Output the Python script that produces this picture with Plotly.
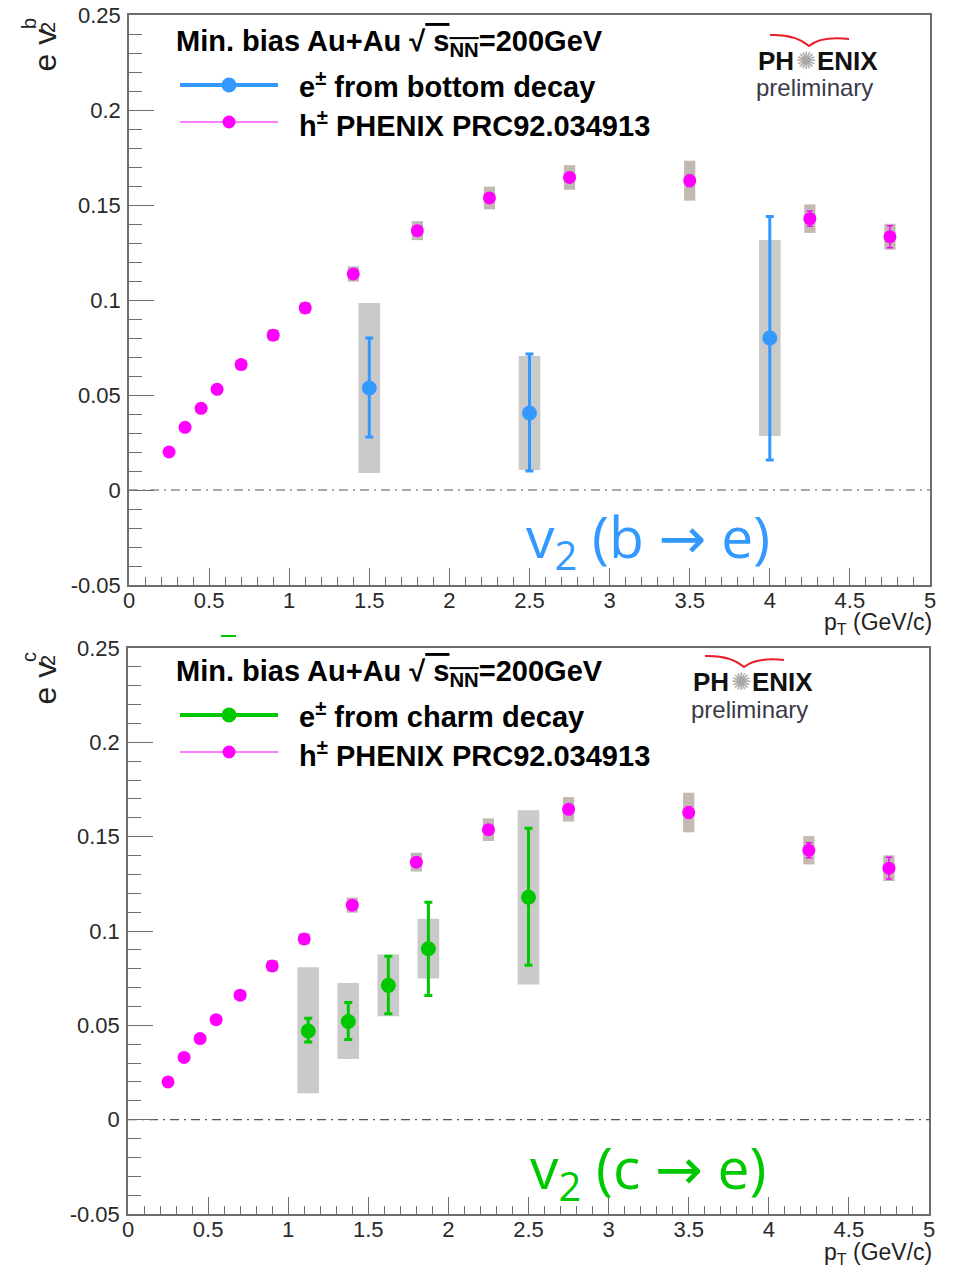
import plotly.graph_objects as go

W, H = 954, 1271

# ---------------- data ----------------
h_pt = [0.25, 0.35, 0.45, 0.55, 0.7, 0.9, 1.1, 1.4, 1.8, 2.25, 2.75, 3.5, 4.25, 4.75]
h_v2 = [0.020, 0.033, 0.043, 0.053, 0.066, 0.0815, 0.0958, 0.1137, 0.1365, 0.1537, 0.1645, 0.1628, 0.1428, 0.1333]
h_stat = [0.0005, 0.0005, 0.0005, 0.0006, 0.0006, 0.0007, 0.0008, 0.001, 0.0012, 0.0015, 0.002, 0.003, 0.004, 0.0058]
h_sys = [0.001, 0.0015, 0.002, 0.002, 0.0025, 0.003, 0.003, 0.004, 0.005, 0.006, 0.0065, 0.0105, 0.0075, 0.0068]

b_pt = [1.5, 2.5, 4.0]
b_v2 = [0.0537, 0.0405, 0.080]
b_stat_hi = [0.0263, 0.0311, 0.064]
b_stat_lo = [0.0258, 0.0305, 0.0642]
b_sys_hi = [0.0447, 0.030, 0.0516]
b_sys_lo = [0.0448, 0.030, 0.0516]

c_pt = [1.125, 1.375, 1.625, 1.875, 2.5]
c_v2 = [0.0470, 0.0520, 0.0712, 0.0906, 0.1179]
c_stat_hi = [0.0067, 0.0101, 0.0154, 0.0247, 0.0366]
c_stat_lo = [0.0059, 0.0095, 0.0150, 0.0248, 0.0361]
c_sys_hi = [0.0338, 0.0205, 0.0164, 0.0159, 0.0461]
c_sys_lo = [0.0330, 0.0199, 0.0164, 0.0158, 0.0462]

x_ticks = [0, 0.5, 1, 1.5, 2, 2.5, 3, 3.5, 4, 4.5, 5]
x_ticktext = ["0", "0.5", "1", "1.5", "2", "2.5", "3", "3.5", "4", "4.5", "5"]
y_ticks = [-0.05, 0, 0.05, 0.1, 0.15, 0.2, 0.25]
y_ticktext = ["-0.05", "0", "0.05", "0.1", "0.15", "0.2", "0.25"]

BLUE = "#3399ff"
GREEN = "#00c800"
MAG = "#ff00ff"
GRAY_BOX = "#cacaca"
H_BOX = "#c2bab2"
AXC = "#6e6e6e"

def px(x):
    return x / W

def py(y):
    return 1 - y / H

fig = go.Figure()

def add_panel(xa, ya, s_pt, s_v2, s_sthi, s_stlo, s_syhi, s_sylo, color):
    # hadron systematic boxes
    fig.add_trace(go.Bar(x=h_pt, y=[2 * s for s in h_sys], base=[v - s for v, s in zip(h_v2, h_sys)],
                         width=0.07, marker=dict(color=H_BOX, line=dict(width=0)),
                         xaxis=xa, yaxis=ya, showlegend=False, hoverinfo="skip"))
    # heavy flavour systematic boxes
    fig.add_trace(go.Bar(x=s_pt, y=[a + b for a, b in zip(s_syhi, s_sylo)],
                         base=[v - b for v, b in zip(s_v2, s_sylo)],
                         width=0.135, marker=dict(color=GRAY_BOX, line=dict(width=0)),
                         xaxis=xa, yaxis=ya, showlegend=False, hoverinfo="skip"))
    # hadrons
    fig.add_trace(go.Scatter(x=h_pt, y=h_v2, mode="markers",
                             marker=dict(color=MAG, size=13),
                             error_y=dict(type="data", array=h_stat, color=MAG, thickness=1.5, width=3),
                             xaxis=xa, yaxis=ya, showlegend=False))
    # heavy flavour electrons
    fig.add_trace(go.Scatter(x=s_pt, y=s_v2, mode="markers",
                             marker=dict(color=color, size=15),
                             error_y=dict(type="data", symmetric=False, array=s_sthi, arrayminus=s_stlo,
                                          color=color, thickness=3, width=4),
                             xaxis=xa, yaxis=ya, showlegend=False))

add_panel("x", "y", b_pt, b_v2, b_stat_hi, b_stat_lo, b_sys_hi, b_sys_lo, BLUE)
add_panel("x2", "y2", c_pt, c_v2, c_stat_hi, c_stat_lo, c_sys_hi, c_sys_lo, GREEN)

xfont = dict(family="Liberation Sans, Arial", size=22, color="#2a2a2a")
yfont = dict(family="Liberation Sans, Arial", size=22, color="#2a2a2a")

def xaxis_cfg(dom, anchor):
    return dict(domain=dom, anchor=anchor, range=[0, 5], tickmode="array", tickvals=x_ticks,
                ticktext=x_ticktext, ticks="inside", ticklen=17, tickwidth=1.2, tickcolor=AXC,
                showline=True, linecolor=AXC, linewidth=1.5, mirror=True, showgrid=False,
                zeroline=False, tickfont=xfont, ticklabelstandoff=-5, automargin=False,
                minor=dict(dtick=0.1, tick0=0, ticks="inside", ticklen=8, tickwidth=1.2, tickcolor=AXC,
                           showgrid=False))

def yaxis_cfg(dom, anchor):
    return dict(domain=dom, anchor=anchor, range=[-0.05, 0.25], tickmode="array", tickvals=y_ticks,
                ticktext=y_ticktext, ticks="inside", ticklen=25, tickwidth=1.2, tickcolor=AXC,
                showline=True, linecolor=AXC, linewidth=1.5, mirror=True, showgrid=False,
                zeroline=False, tickfont=yfont, ticklabelstandoff=2, automargin=False,
                minor=dict(dtick=0.01, tick0=0, ticks="inside", ticklen=13, tickwidth=1.2, tickcolor=AXC,
                           showgrid=False))

fig.update_layout(
    width=W, height=H, autosize=False, margin=dict(l=0, r=0, t=0, b=0, autoexpand=False),
    paper_bgcolor="white", plot_bgcolor="white", barmode="overlay", showlegend=False,
    xaxis=xaxis_cfg([px(129), px(930)], "y"),
    yaxis=yaxis_cfg([py(585), py(15)], "x"),
    xaxis2=xaxis_cfg([px(128), px(929)], "y2"),
    yaxis2=yaxis_cfg([py(1214), py(648)], "x2"),
)

shapes = []
anns = []

# zero lines (dash-dot)
for xr, yr in (("x domain", "y"), ("x2 domain", "y2")):
    shapes.append(dict(type="line", xref=xr, yref=yr, x0=0, x1=1, y0=0, y1=0,
                       line=dict(color="#555555", width=1.2, dash="9px,5px,2px,5px"), layer="below"))

LEG = "Liberation Sans, Arial"

def text(t, x, y, size, color="black", xanchor="left", yanchor="middle", family=LEG, angle=0):
    anns.append(dict(text=t, x=px(x), y=py(y), xref="paper", yref="paper", showarrow=False,
                     xanchor=xanchor, yanchor=yanchor, textangle=angle,
                     font=dict(family=family, size=size, color=color)))

def legend_block(dy, color, label):
    text("<b>Min. bias Au+Au √<span style='text-decoration:overline'> s<sub>NN</sub></span>=200GeV</b>",
         174, 43 + dy, 29)
    # series glyph
    shapes.append(dict(type="line", xref="paper", yref="paper", x0=px(180), x1=px(278),
                       y0=py(85 + dy), y1=py(85 + dy), line=dict(color=color, width=4)))
    shapes.append(dict(type="circle", xref="paper", yref="paper", xsizemode="pixel", ysizemode="pixel",
                       xanchor=px(229), yanchor=py(85 + dy), x0=-7.5, x1=7.5, y0=-7.5, y1=7.5,
                       fillcolor=color, line=dict(color=color, width=0)))
    text("<b>e<sup>±</sup> " + label + "</b>", 297, 85 + dy, 29)
    # hadron glyph
    shapes.append(dict(type="line", xref="paper", yref="paper", x0=px(180), x1=px(278),
                       y0=py(122 + dy), y1=py(122 + dy), line=dict(color=MAG, width=1)))
    shapes.append(dict(type="circle", xref="paper", yref="paper", xsizemode="pixel", ysizemode="pixel",
                       xanchor=px(229), yanchor=py(122 + dy), x0=-6.5, x1=6.5, y0=-6.5, y1=6.5,
                       fillcolor=MAG, line=dict(color=MAG, width=0)))
    text("<b>h<sup>±</sup> PHENIX PRC92.034913</b>", 297, 124 + dy, 29)

legend_block(0, BLUE, "from bottom decay")
legend_block(630, GREEN, "from charm decay")

def logo(x0, y0):
    # red gull-wing arc
    pts = [(x0 + 13, y0 - 26), (x0 + 38, y0 - 27), (x0 + 52, y0 - 15), (x0 + 64, y0 - 25), (x0 + 92, y0 - 22)]
    path = "M {:.5f},{:.5f} Q {:.5f},{:.5f} {:.5f},{:.5f} Q {:.5f},{:.5f} {:.5f},{:.5f}".format(
        px(pts[0][0]), py(pts[0][1]), px(pts[1][0]), py(pts[1][1]), px(pts[2][0]), py(pts[2][1]),
        px(pts[3][0]), py(pts[3][1]), px(pts[4][0]), py(pts[4][1]))
    shapes.append(dict(type="path", xref="paper", yref="paper", path=path,
                       line=dict(color="#e8202a", width=2)))
    text("<b>PH</b>", x0 - 1, y0, 26, color="#111111")
    text("✺", x0 + 49, y0, 24, color="#a8a8a8", xanchor="center", family="DejaVu Sans")
    text("<b>ENIX</b>", x0 + 58, y0, 26, color="#111111")
    text("preliminary", x0 - 3, y0 + 27, 24, color="#3a3a48")

logo(757, 61)
logo(692, 682)

# big labels
ARW = "<span style='font-family:DejaVu Sans'>→</span>"
text("v<sub>2</sub> (b " + ARW + " e)", 648, 540, 57, color=BLUE, xanchor="center", family="Open Sans, Noto Sans")
text("v<sub>2</sub> (c " + ARW + " e)", 648, 1170, 57, color=GREEN, xanchor="center", family="Open Sans, Noto Sans")

# y titles
for dy, sup in ((0, "b"), (633, "c")):
    text("e v", 44, 74 + dy, 32, color="#222222", yanchor="bottom", xanchor="center", angle=-90)
    text(sup, 29, 24 + dy, 20, color="#222222", xanchor="center", angle=-90)
    text("2", 48, 28 + dy, 20, color="#222222", xanchor="center", angle=-90)

# x titles
for yc in (623, 1253):
    text("p<sub>T</sub> (GeV/c)", 934, yc, 23, color="#222222", xanchor="right")

# small green mark under top panel
shapes.append(dict(type="line", xref="paper", yref="paper", x0=px(221), x1=px(236), y0=py(636), y1=py(636),
                   line=dict(color=GREEN, width=2)))

fig.update_layout(shapes=shapes, annotations=anns)
fig.write_html("out.html")
